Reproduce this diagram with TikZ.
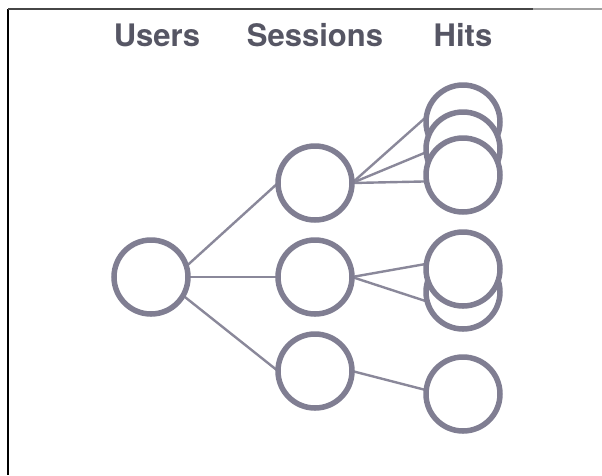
\documentclass[tikz,border=0pt]{standalone}
\usepackage{fontspec}
\setmainfont{TeX Gyre Heros}
\usetikzlibrary{backgrounds}
\definecolor{ringcol}{RGB}{128,126,146}
\definecolor{linkcol}{RGB}{138,136,154}
\definecolor{headcol}{RGB}{86,86,100}
\definecolor{framecol}{RGB}{70,70,70}
\definecolor{framelite}{RGB}{160,160,160}
\tikzset{
  ring/.style={circle, draw=ringcol, line width=5.5pt, fill=white,
    minimum size=74pt, inner sep=0pt, outer sep=0pt},
  link/.style={draw=linkcol, line width=2.4pt},
  head/.style={text=headcol, font=\fontsize{31}{31}\selectfont\bfseries,
    anchor=base, inner sep=0pt},
}
\begin{document}
\begin{tikzpicture}[x=1pt, y=-1pt]
  \useasboundingbox (0,0) rectangle (602,475);

  % frame edges
  \coordinate (ftl) at (8,9);
  \coordinate (fbl) at (8,475);
  \coordinate (ftm) at (533,9);
  \coordinate (ftr) at (602,9);
  \draw[black, line width=1.3pt] (ftl) -- (fbl);
  \draw[framecol, line width=1.5pt] (ftl) -- (ftm);
  \draw[framelite, line width=1.2pt] (ftm) -- (ftr);

  % column headings
  \node[head] (tu) at (157,46) {Users};
  \node[head] (ts) at (315,46) {Sessions};
  \node[head] (th) at (463,46) {Hits};

  % user
  \node[ring] (u) at (151,277) {};
  % sessions
  \node[ring] (s1) at (315,183) {};
  \node[ring] (s2) at (315,277) {};
  \node[ring] (s3) at (315,371) {};
  % hits of the first session (lowest in front)
  \node[ring] (h1) at (463,122) {};
  \node[ring] (h2) at (463,149) {};
  \node[ring] (h3) at (463,175) {};
  % hits of the second session (upper in front)
  \node[ring] (h5) at (463,292) {};
  \node[ring] (h4) at (463,269) {};
  % hit of the third session
  \node[ring] (h6) at (463,394) {};

  \begin{pgfonlayer}{background}
    \fill[white] (0,0) rectangle (602,475);
    \draw[link] (u.17) -- (s1.west);
    \draw[link] (u.east) -- (s2.west);
    \draw[link] (u.-30) -- (s3.west);
    \draw[link] (s1.east) -- (h1.172);
    \draw[link] (s1.east) -- (h2.185);
    \draw[link] (s1.east) -- (h3.190);
    \draw[link] (s2.east) -- (h4.172);
    \draw[link] (s2.east) -- (h5.195);
    \draw[link] (s3.east) -- (h6.174);
  \end{pgfonlayer}
\end{tikzpicture}
\end{document}
